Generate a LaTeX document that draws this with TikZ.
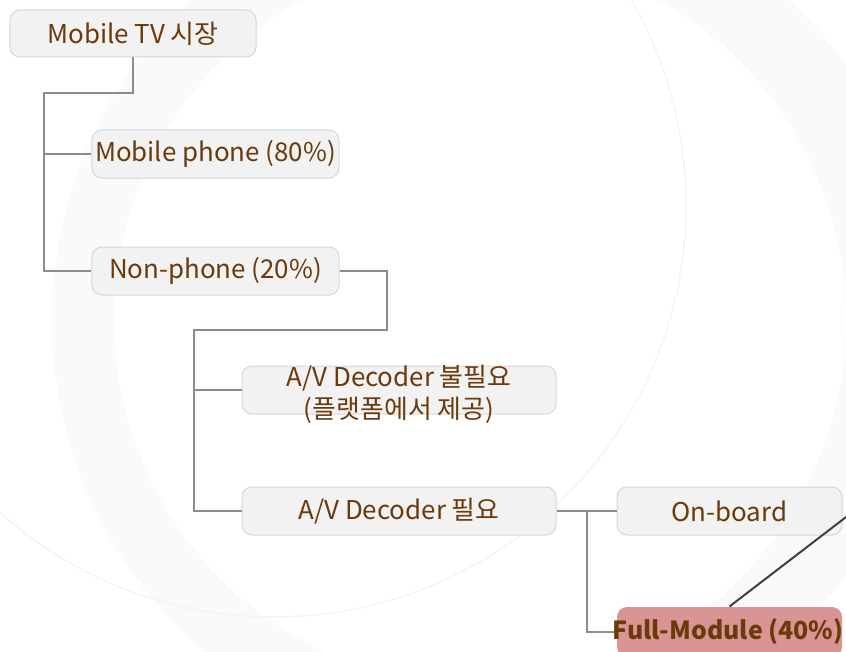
\documentclass[tikz,border=0pt]{standalone}
\usepackage{fontspec}
\setmainfont{Noto Sans CJK KR}
\definecolor{boxfill}{HTML}{F2F2F2}
\definecolor{boxline}{HTML}{D6D6D6}
\definecolor{txtc}{HTML}{6B3A0B}
\definecolor{connc}{HTML}{8C8C8C}
\definecolor{pinkfill}{HTML}{D99594}
\definecolor{darkline}{HTML}{404040}
\definecolor{bgring}{HTML}{FAFAFA}
\definecolor{bgthin}{HTML}{F4F4F4}
\begin{document}
\begin{tikzpicture}[x=1bp,y=-1bp,
  box/.style={draw=boxline, fill=boxfill, rounded corners=10bp, line width=1bp, inner sep=0pt},
  lbl/.style={text=txtc, font=\fontsize{26}{32}\selectfont, inner sep=0pt, align=center},
  conn/.style={draw=connc, line width=2bp},
  link/.style={draw=darkline, line width=2bp},
]
\useasboundingbox (0,0) rectangle (846,652);
% faint background rings
\fill[bgring, even odd rule] (490,320) circle [radius=438] (480,320) circle [radius=366];
\draw[bgthin, line width=1.5bp] (274,205) circle [radius=412];

% boxes
\node[box, minimum width=246bp, minimum height=47bp] (root) at (133,33.5) {};
\node[box, minimum width=247bp, minimum height=48bp] (mp) at (215.5,154) {};
\node[box, minimum width=247bp, minimum height=48bp] (np) at (215.5,271) {};
\node[box, minimum width=314bp, minimum height=48bp] (av1) at (399,390) {};
\node[box, minimum width=314bp, minimum height=48bp] (av2) at (399,511) {};
\node[box, minimum width=225bp, minimum height=48bp] (ob) at (729.5,511) {};
\node[box, draw=none, fill=pinkfill, minimum width=225bp, minimum height=50bp] (fm) at (729.5,632) {};

% connectors
\draw[conn] (root.south) |- (44,93) |- (np.west);
\draw[conn] (mp.west) -- ++(-48,0);
\draw[conn] (np.east) -| (387,330) -- (194,330) |- (av2.west);
\draw[conn] (av1.west) -- ++(-48,0);
\draw[conn] (av2.east) -- (ob.west);
\draw[conn] (587,511) |- (fm.west);
\coordinate (offlink) at (850,514);
\draw[link] (fm.north) -- (offlink);

% labels
\node[lbl] (troot) at (root) {Mobile TV 시장};
\node[lbl] (tmp) at (mp) {Mobile phone (80\%)};
\node[lbl] (tnp) at (np) {Non-phone (20\%)};
\node[lbl] (tav1) at (399,394) {A/V Decoder 불필요\\(플랫폼에서 제공)};
\node[lbl] (tav2) at (av2) {A/V Decoder 필요};
\node[lbl] (tob) at (ob) {On-board};
\node[lbl, font=\bfseries\fontsize{25}{32}\selectfont] (tfm) at (728,632) {Full-Module (40\%)};
\end{tikzpicture}
\end{document}
